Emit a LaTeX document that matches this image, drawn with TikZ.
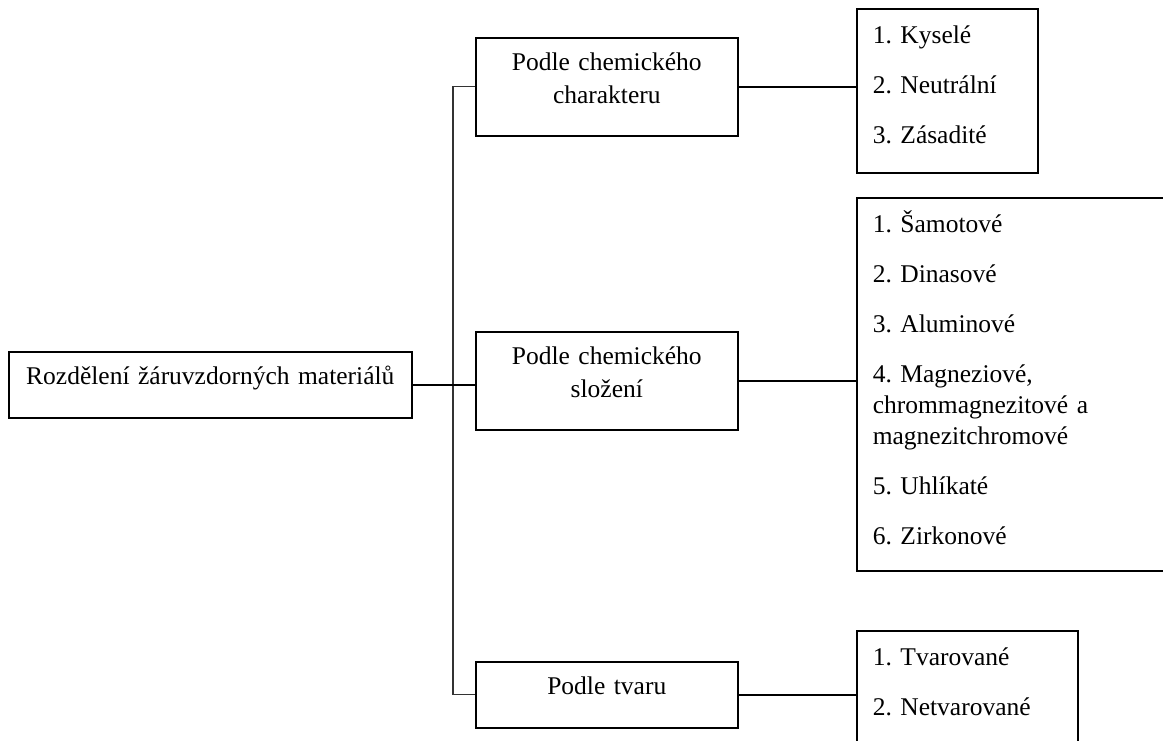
\documentclass[tikz,border=0pt]{standalone}
\usepackage{fontspec}
\setmainfont{Liberation Serif}
\frenchspacing

\begin{document}
\begin{tikzpicture}[x=1pt,y=-1pt,
    box/.style={draw,line width=1.6pt,inner sep=0pt,anchor=north west,
      font=\fontsize{25.5pt}{33pt}\selectfont,align=center,text width=262pt,text height=33pt},
    list/.style={draw,line width=1.6pt,inner xsep=16pt,inner ysep=0pt,anchor=north west,
      font=\fontsize{25.5pt}{31pt}\selectfont,align=left,text height=35pt},
    conn/.style={line width=1.6pt}]
    \useasboundingbox (0,0) rectangle (1163,740);
    \clip (0,0) rectangle (1163,740);

    \node[box,text width=403pt,text depth=33pt] (r0) at (8,351) {Rozdělení žáruvzdorných materiálů};

    \node[box,text depth=65pt] (p1) at (475,37) {Podle chemického\\charakteru};
    \node[box,text depth=65pt] (p2) at (475,331) {Podle chemického\\složení};
    \node[box,text depth=33pt] (p3) at (475,661) {Podle tvaru};

    \node[list,text width=149pt,text depth=129pt] (s1) at (856,8)
      {1. Kyselé\\[19pt]2. Neutrální\\[19pt]3. Zásadité};
    \node[list,text width=300pt,text depth=338pt] (s2) at (856,197)
      {1. Šamotové\\[19pt]2. Dinasové\\[19pt]3. Aluminové\\[19pt]4. Magneziové,\\chrommagnezitové a\\magnezitchromové\\[19pt]5. Uhlíkaté\\[19pt]6. Zirkonové};
    \node[list,text width=189pt,text depth=79pt] (s3) at (856,630)
      {1. Tvarované\\[19pt]2. Netvarované};

    \coordinate (bus) at (453,0);
    \draw[line width=1.3pt,black!80] (p1.west) -- (p1.west -| bus) -- (p3.west -| bus) -- (p3.west);
    \draw[conn] (r0.east) -- (r0.east -| p2.west);
    \draw[conn] (p1.east) -- (p1.east -| s1.west);
    \draw[conn] (p2.east) -- (p2.east -| s2.west);
    \draw[conn] (p3.east) -- (p3.east -| s3.west);
\end{tikzpicture}
\end{document}
